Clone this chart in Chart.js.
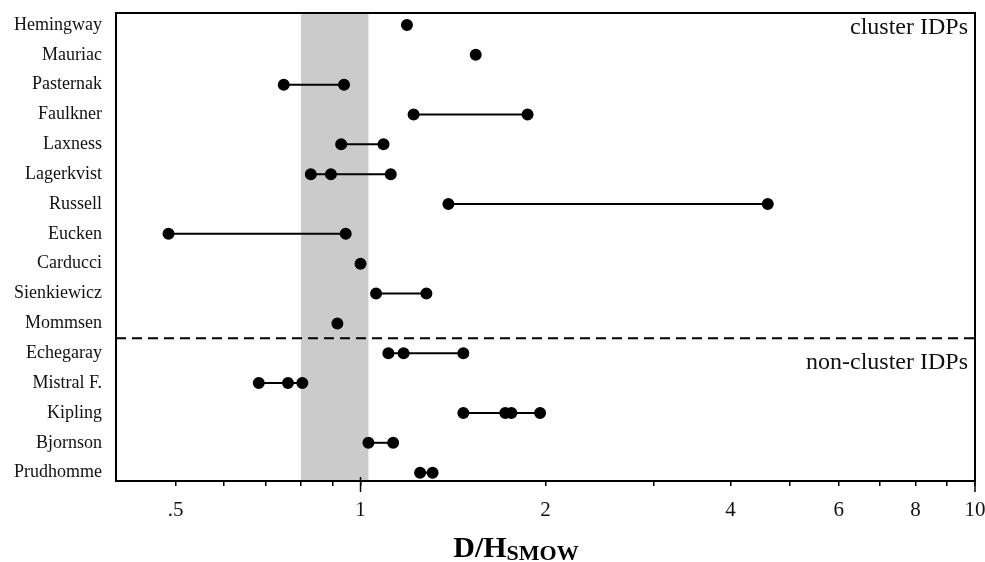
<!DOCTYPE html>
<html>
<head>
<meta charset="utf-8">
<script src="https://cdn.jsdelivr.net/npm/chart.js@4/dist/chart.umd.min.js"></script>
<style>
html,body{margin:0;padding:0;background:#fff;}
#wrap{width:985px;height:562px;position:relative;}
</style>
</head>
<body>
<div id="wrap"><canvas id="c" width="985" height="562"></canvas></div>
<script>
// ---- data ----
const names = ["Hemingway","Mauriac","Pasternak","Faulkner","Laxness","Lagerkvist","Russell","Eucken","Carducci","Sienkiewicz","Mommsen","Echegaray","Mistral F.","Kipling","Bjornson","Prudhomme"];
const hemingway   = [1.19];
const mauriac     = [1.54];
const pasternak   = [0.75, 0.94];
const faulkner    = [1.22, 1.87];
const laxness     = [0.93, 1.09];
const lagerkvist  = [0.83, 0.895, 1.12];
const russell     = [1.39, 4.6];
const eucken      = [0.487, 0.946];
const carducci    = [1.0];
const sienkiewicz = [1.06, 1.28];
const mommsen     = [0.917];
const echegaray   = [1.11, 1.175, 1.47];
const mistral     = [0.683, 0.762, 0.804];
const kipling     = [1.47, 1.72, 1.76, 1.96];
const bjornson    = [1.03, 1.13];
const prudhomme   = [1.25, 1.31];
const rowValues = [hemingway,mauriac,pasternak,faulkner,laxness,lagerkvist,russell,eucken,carducci,sienkiewicz,mommsen,echegaray,mistral,kipling,bjornson,prudhomme];
const xTickValues = [0.5,0.6,0.7,0.8,0.9,1,2,3,4,5,6,7,8,9,10];
const xTickLabels = {0.5:".5",1:"1",2:"2",4:"4",6:"6",8:"8",10:"10"};
const smowBand = [0.8, 1.03];
const groupBoundary = 10.5;
const groupLabels = ["cluster IDPs","non-cluster IDPs"];
const groupLabelRows = [0.1, 11.3];

const SERIF = '"Liberation Serif","DejaVu Serif",serif';

const datasets = rowValues.map((vals, i) => ({
  label: names[i],
  data: vals.map(v => ({x: v, y: i})),
  showLine: true,
  borderColor: '#000',
  borderWidth: 2,
  backgroundColor: '#000',
  pointBackgroundColor: '#000',
  pointBorderColor: '#000',
  pointRadius: 5,
  pointHoverRadius: 5
}));

const decor = {
  id: 'decor',
  beforeDatasetsDraw(chart) {
    const {ctx, chartArea: a, scales: {x, y}} = chart;
    ctx.save();
    const x0 = x.getPixelForValue(smowBand[0]);
    const x1 = x.getPixelForValue(smowBand[1]);
    ctx.fillStyle = '#cbcbcb';
    ctx.fillRect(x0, a.top, x1 - x0, a.bottom - a.top);
    // dashed group boundary
    const yb = y.getPixelForValue(groupBoundary);
    ctx.strokeStyle = '#000';
    ctx.lineWidth = 2;
    ctx.setLineDash([10, 6]);
    ctx.beginPath();
    ctx.moveTo(a.left, yb);
    ctx.lineTo(a.right, yb);
    ctx.stroke();
    ctx.setLineDash([]);
    // group labels
    ctx.fillStyle = '#111';
    ctx.font = '24px ' + SERIF;
    ctx.textAlign = 'right';
    ctx.textBaseline = 'middle';
    groupLabels.forEach((t, k) => {
      ctx.fillText(t, a.right - 7, y.getPixelForValue(groupLabelRows[k]));
    });
    ctx.restore();
  },
  afterDraw(chart) {
    const {ctx, chartArea: a, scales: {x}} = chart;
    ctx.save();
    ctx.strokeStyle = '#000';
    ctx.lineWidth = 2;
    ctx.strokeRect(a.left, a.top, a.right - a.left, a.bottom - a.top);
    // longer ticks at decades
    ctx.lineWidth = 1.5;
    [1, 10].forEach(v => {
      const px = x.getPixelForValue(v);
      ctx.beginPath();
      ctx.moveTo(px, a.bottom - 4);
      ctx.lineTo(px, a.bottom + 11);
      ctx.stroke();
    });
    // axis title D/H with subscript SMOW
    ctx.fillStyle = '#000';
    ctx.textBaseline = 'alphabetic';
    ctx.textAlign = 'left';
    const big = 'bold 30px ' + SERIF;
    const small = 'bold 22px ' + SERIF;
    ctx.font = big;
    const w1 = ctx.measureText('D/H').width;
    ctx.font = small;
    const w2 = ctx.measureText('SMOW').width;
    const cx = 516;
    const start = cx - (w1 + w2) / 2;
    ctx.font = big;
    ctx.fillText('D/H', start, 557);
    ctx.font = small;
    ctx.fillText('SMOW', start + w1, 560);
    ctx.restore();
  }
};

new Chart(document.getElementById('c'), {
  type: 'scatter',
  data: { datasets },
  plugins: [decor],
  options: {
    responsive: false,
    animation: false,
    events: [],
    layout: { autoPadding: false, padding: { top: 13, right: 10, left: 0, bottom: 0 } },
    plugins: { legend: { display: false }, tooltip: { enabled: false } },
    scales: {
      x: {
        type: 'logarithmic',
        min: 0.4,
        max: 10,
        afterBuildTicks(scale) { scale.ticks = xTickValues.map(v => ({value: v})); },
        afterFit(scale) { scale.height = 81; scale.paddingLeft = 0; scale.paddingRight = 0; },
        ticks: {
          autoSkip: false,
          maxRotation: 0,
          color: '#111',
          padding: 12,
          font: { family: SERIF, size: 21 },
          callback(v) { return xTickLabels[v] !== undefined ? xTickLabels[v] : ''; }
        },
        grid: { drawOnChartArea: false, drawTicks: true, tickLength: 5, color: '#000', lineWidth: 1.5 },
        border: { display: true, color: '#000', width: 2 }
      },
      y: {
        type: 'linear',
        reverse: true,
        min: -0.4,
        max: 15.28,
        afterBuildTicks(scale) { scale.ticks = names.map((n, i) => ({value: i})); },
        afterFit(scale) { scale.width = 116; scale.paddingTop = 0; scale.paddingBottom = 0; },
        ticks: {
          autoSkip: false,
          color: '#111',
          padding: 14,
          font: { family: SERIF, size: 18 },
          callback(v) { return names[v] !== undefined ? names[v] : ''; }
        },
        grid: { display: false, drawTicks: false },
        border: { display: true, color: '#000', width: 2 }
      }
    }
  }
});
</script>
</body>
</html>
